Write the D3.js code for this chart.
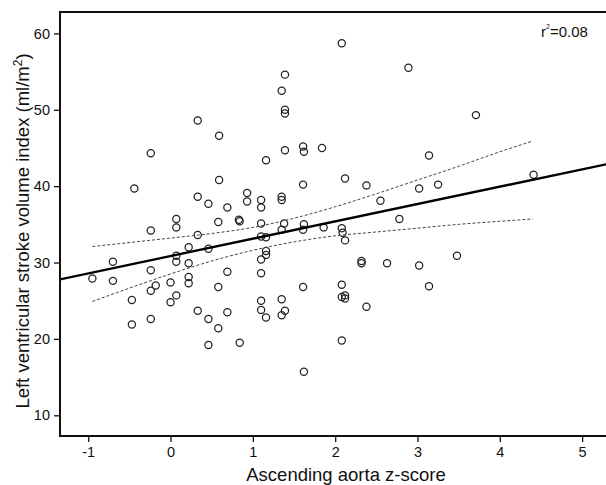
<!DOCTYPE html>
<html lang="en">
<head>
    <meta charset="utf-8" />
    <title>LV stroke volume index vs ascending aorta z-score</title>
    <script src="https://cdn.jsdelivr.net/npm/d3@7"></script>
    <style>
        body { margin: 0; background: #fff; }
        svg { display: block; font-family: "Liberation Sans", Arial, sans-serif; }
    </style>
</head>
<body>
    <div id="chart"></div>
    <script>
        // z-score of each patient (x) and LV stroke volume index (y)
        var zScore = [
            -0.95, -0.70, -0.70, -0.47, -0.47, -0.44, -0.24, -0.24, -0.24, -0.24,
            -0.18, -0.24, 0.00, 0.00, 0.07, 0.07, 0.07, 0.07, 0.07, 0.22,
            0.22, 0.22, 0.22, 0.33, 0.33, 0.33, 0.33, 0.46, 0.46, 0.46,
            0.46, 0.59, 0.59, 0.58, 0.58, 0.58, 0.69, 0.69, 0.69, 0.83,
            0.84, 0.84, 0.93, 0.93, 1.10, 1.10, 1.16, 1.10, 1.10, 1.16,
            1.16, 1.16, 1.10, 1.10, 1.10, 1.10, 1.16, 1.35, 1.39, 1.39,
            1.39, 1.39, 1.35, 1.35, 1.38, 1.35, 1.35, 1.39, 1.35, 1.61,
            1.62, 1.61, 1.62, 1.61, 1.61, 1.62, 1.84, 1.86, 2.08, 2.12,
            2.08, 2.09, 2.12, 2.08, 2.08, 2.12, 2.12, 2.08, 2.38, 2.38,
            2.32, 2.32, 2.55, 2.63, 2.78, 2.89, 3.02, 3.02, 3.14, 3.14,
            3.25, 3.48, 3.71, 4.41
        ];
        var svIndex = [
            27.9, 30.1, 27.6, 25.1, 21.9, 39.7, 44.3, 34.2, 29.0, 26.3,
            27.0, 22.6, 27.4, 24.8, 35.7, 34.6, 30.9, 30.1, 25.7, 32.0,
            29.9, 28.1, 27.3, 48.6, 38.6, 33.6, 23.7, 37.7, 31.8, 22.6,
            19.2, 46.6, 40.8, 35.3, 26.8, 21.4, 37.2, 28.8, 23.5, 35.6,
            35.4, 19.5, 39.1, 38.0, 38.2, 37.2, 43.4, 35.1, 33.4, 33.3,
            31.5, 31.0, 30.4, 28.6, 25.0, 23.8, 22.8, 52.5, 54.6, 50.0,
            49.5, 44.7, 38.6, 38.2, 35.1, 34.3, 25.2, 23.7, 23.1, 45.2,
            44.5, 40.2, 35.0, 34.3, 26.8, 15.7, 45.0, 34.6, 58.7, 41.0,
            34.5, 33.9, 32.9, 27.1, 25.5, 25.7, 25.3, 19.8, 40.1, 24.2,
            30.2, 29.9, 38.1, 29.9, 35.7, 55.5, 39.7, 29.6, 44.0, 26.9,
            40.2, 30.9, 49.3, 41.5
        ];

        // fitted line (intercept, slope) and 95% CI band
        var fit = [30.85, 2.27];
        var ciX = [-0.95, 0, 0.5, 1, 1.5, 2, 2.5, 3, 3.5, 4, 4.4];
        var ciUpper = [32.1, 33.2, 33.8, 34.6, 35.8, 37.3, 39.0, 40.8, 42.6, 44.5, 45.9];
        var ciLower = [24.9, 28.5, 30.2, 31.6, 32.7, 33.5, 34.0, 34.5, 35.0, 35.4, 35.7];

        var xTicks = [-1, 0, 1, 2, 3, 4, 5];
        var yTicks = [10, 20, 30, 40, 50, 60];

        var width = 606, height = 485;
        var mLeft = 60, mTop = 12, mBottom = 436, mRight = 606;

        var svg = d3.select("#chart")
            .append("svg")
            .attr("width", width)
            .attr("height", height);

        var x = d3.scaleLinear().domain([-1.343, 5.29]).range([mLeft, mRight]);
        var y = d3.scaleLinear().domain([7.29, 62.8]).range([mBottom, mTop]);

        svg.append("clipPath")
            .attr("id", "plot")
            .append("rect")
            .attr("x", mLeft)
            .attr("y", mTop)
            .attr("width", mRight - mLeft)
            .attr("height", mBottom - mTop);

        var plot = svg.append("g").attr("clip-path", "url(#plot)");

        //points
        plot.selectAll("circle")
            .data(zScore.map((z, i) => [z, svIndex[i]]))
            .enter()
            .append("circle")
            .attr("cx", (d) => x(d[0]))
            .attr("cy", (d) => y(d[1]))
            .attr("r", 3.6)
            .style("fill", "none")
            .style("stroke", "#222")
            .style("stroke-width", 1.25);

        //confidence band
        var ciLine = d3.line()
            .x((d) => x(d[0]))
            .y((d) => y(d[1]))
            .curve(d3.curveMonotoneX);

        [ciUpper, ciLower].forEach(function (band) {
            plot.append("path")
                .datum(ciX.map((v, i) => [v, band[i]]))
                .attr("d", ciLine)
                .style("fill", "none")
                .style("stroke", "#444")
                .style("stroke-width", 1)
                .style("stroke-dasharray", "3,2");
        });

        //regression line
        var xd = x.domain();
        plot.append("line")
            .attr("x1", x(xd[0]))
            .attr("y1", y(fit[0] + fit[1] * xd[0]))
            .attr("x2", x(xd[1]))
            .attr("y2", y(fit[0] + fit[1] * xd[1]))
            .style("stroke", "#000")
            .style("stroke-width", 2.3);

        //axes
        var xAxis = svg.append("g")
            .attr("transform", "translate(0," + mBottom + ")")
            .call(d3.axisBottom(x).tickValues(xTicks).tickSize(6).tickPadding(5)
                .tickFormat(d3.format("d")));
        var yAxis = svg.append("g")
            .attr("transform", "translate(" + mLeft + ",0)")
            .call(d3.axisLeft(y).tickValues(yTicks).tickSize(6).tickPadding(4));
        [xAxis, yAxis].forEach(function (ax) {
            ax.select(".domain").remove();
            ax.selectAll(".tick line").style("stroke", "#111").style("stroke-width", 1.3);
            ax.selectAll(".tick text")
                .style("font-size", "14.5px")
                .style("fill", "#111")
                .style("font-family", "'Liberation Sans', Arial, sans-serif");
        });
        xAxis.selectAll("text").text((d) => d < 0 ? "-" + Math.abs(d) : d);

        //frame
        svg.append("rect")
            .attr("x", mLeft)
            .attr("y", mTop)
            .attr("width", mRight - mLeft + 20)
            .attr("height", mBottom - mTop)
            .style("fill", "none")
            .style("stroke", "#111")
            .style("stroke-width", 2);

        //titles
        svg.append("text")
            .attr("x", 346)
            .attr("y", 480.5)
            .attr("text-anchor", "middle")
            .style("font-size", "18.5px")
            .style("fill", "#111")
            .text("Ascending aorta z-score");

        var yTitle = svg.append("text")
            .attr("transform", "translate(28.5,231) rotate(-90)")
            .attr("text-anchor", "middle")
            .style("font-size", "18.5px")
            .style("fill", "#111");
        yTitle.append("tspan").text("Left ventricular stroke volume index (ml/m");
        yTitle.append("tspan").attr("dy", -7).style("font-size", "12px").text("2");
        yTitle.append("tspan").attr("dy", 7).text(")");

        var r2 = svg.append("text")
            .attr("x", 541)
            .attr("y", 37)
            .style("font-size", "15px")
            .style("fill", "#111");
        r2.append("tspan").text("r");
        r2.append("tspan").attr("dy", -8).style("font-size", "7px").text("2");
        r2.append("tspan").attr("dy", 8).text("=0.08");
    </script>
</body>
</html>
